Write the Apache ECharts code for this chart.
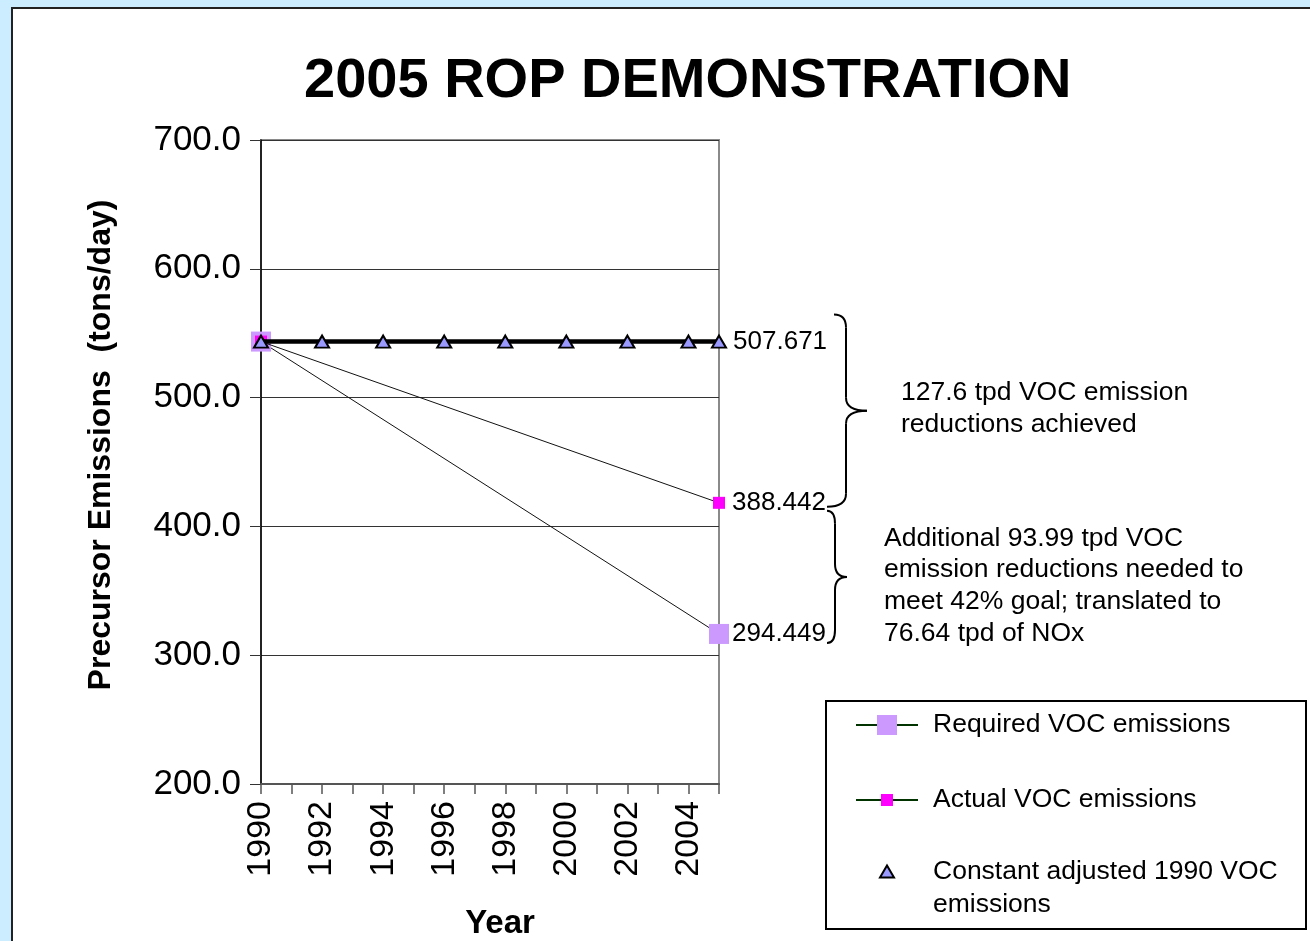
<!DOCTYPE html>
<html><head><meta charset="utf-8">
<script src="https://cdn.jsdelivr.net/npm/echarts@6/dist/echarts.min.js"></script>
<style>
html,body{margin:0;padding:0;background:#ccecff;overflow:hidden;}
#wrap{position:relative;width:1310px;height:941px;background:#ccecff;overflow:hidden;}
#panel{position:absolute;left:11px;top:7px;width:1400px;height:1000px;background:#fff;border:2px solid #222;box-sizing:border-box;}
#chart{position:absolute;left:0;top:0;width:1310px;height:941px;}
</style></head><body>
<div id="wrap"><div id="panel"></div><div id="chart"></div></div>
<script>
const titleText = '2005 ROP DEMONSTRATION';
const xAxisTitle = 'Year';
const yAxisTitle = 'Precursor Emissions  (tons/day)';
const yMin = 200, yMax = 700, yStep = 100;
const xMin = 1990, xMax = 2005, xStep = 1;
const labelledYears = [1990, 1992, 1994, 1996, 1998, 2000, 2002, 2004];
const seriesNames = ['Required VOC emissions', 'Actual VOC emissions', 'Constant adjusted 1990 VOC emissions'];
const legendLabels = ['Required VOC emissions', 'Actual VOC emissions', '\nConstant adjusted 1990 VOC\nemissions'];
const requiredYears = [1990, 2005];
const requiredValues = [543.5, 316.5];
const actualYears = [1990, 2005];
const actualValues = [543.5, 418.3];
const constantYears = [1990, 1992, 1994, 1996, 1998, 2000, 2002, 2004, 2005];
const constantValues = [543.5, 543.5, 543.5, 543.5, 543.5, 543.5, 543.5, 543.5, 543.5];
const endLabels = ['294.449', '388.442', '507.671'];
const noteAchieved = '127.6 tpd VOC emission\nreductions achieved';
const noteNeeded = 'Additional 93.99 tpd VOC\nemission reductions needed to\nmeet 42% goal; translated to\n76.64 tpd of NOx';

const FONT = '"Liberation Sans", Arial, sans-serif';
const chart = echarts.init(document.getElementById('chart'), null, {renderer: 'canvas'});

function pairs(xs, ys) { return xs.map((x, i) => [x, ys[i]]); }
function endLabel(text, len) {
  return p => (p.dataIndex === len - 1 ? text : '');
}

const option = {
  backgroundColor: 'transparent',
  animation: false,
  title: {
    text: titleText, left: 299, top: 49,
    textStyle: {fontFamily: FONT, fontSize: 56, fontWeight: 'bold', color: '#000'}
  },
  grid: {left: 261, top: 140, right: 591, bottom: 157, containLabel: false, outerBoundsMode: 'none',
    show: true, borderColor: '#8a8a8a', borderWidth: 2, backgroundColor: 'transparent'},
  xAxis: {
    type: 'value', min: xMin, max: xMax, interval: xStep,
    name: xAxisTitle, nameLocation: 'middle', nameGap: 123,
    nameTextStyle: {fontFamily: FONT, fontSize: 33, fontWeight: 'bold', color: '#000', padding: [0, 0, 0, 20]},
    axisLine: {show: true, lineStyle: {color: '#555', width: 2}},
    axisTick: {show: true, length: 10, lineStyle: {color: '#555', width: 1.5}},
    splitLine: {show: false},
    axisLabel: {
      rotate: 90, margin: 17, fontFamily: FONT, fontSize: 34, color: '#000',
      formatter: v => (labelledYears.indexOf(v) >= 0 ? String(v) : '')
    }
  },
  yAxis: {
    type: 'value', min: yMin, max: yMax, interval: yStep,
    name: yAxisTitle, nameLocation: 'middle', nameGap: 144, nameRotate: 90,
    nameTextStyle: {fontFamily: FONT, fontSize: 32, fontWeight: 'bold', color: '#000', padding: [0, 0, 0, 34]},
    axisLine: {show: true, lineStyle: {color: '#000', width: 1.5}},
    axisTick: {show: true, length: 11, lineStyle: {color: '#333', width: 1}},
    splitLine: {show: true, lineStyle: {color: '#333', width: 1}},
    axisLabel: {margin: 20, fontFamily: FONT, fontSize: 35, color: '#000', padding: [6, 0, 0, 0], formatter: v => v.toFixed(1)}
  },
  legend: [
    {
      data: [seriesNames[0]], orient: 'vertical', left: 855, top: 710, padding: 0,
      itemWidth: 62, itemHeight: 25,
      lineStyle: {color: '#003300', width: 2},
      formatter: () => legendLabels[0],
      textStyle: {fontFamily: FONT, fontSize: 26.5, color: '#000', lineHeight: 30, padding: [0, 0, 0, 10]}
    },
    {
      data: [seriesNames[1]], orient: 'vertical', left: 855, top: 785, padding: 0,
      itemWidth: 62, itemHeight: 15,
      lineStyle: {color: '#003300', width: 2},
      formatter: () => legendLabels[1],
      textStyle: {fontFamily: FONT, fontSize: 26.5, color: '#000', lineHeight: 30, padding: [0, 0, 0, 10]}
    },
    {
      data: [{name: seriesNames[2], icon: 'triangle'}], orient: 'vertical', left: 879, top: 822, padding: 0,
      itemWidth: 14, itemHeight: 12,
      formatter: () => legendLabels[2],
      textStyle: {fontFamily: FONT, fontSize: 26.5, color: '#000', lineHeight: 33, padding: [0, 0, 0, 34]}
    }
  ],
  series: [
    {
      name: seriesNames[0], type: 'line', data: pairs(requiredYears, requiredValues),
      symbol: 'rect', symbolSize: 20, z: 2,
      itemStyle: {color: '#cc99ff', borderWidth: 0},
      lineStyle: {color: '#111', width: 1},
      label: {show: true, position: 'right', distance: 3, fontFamily: FONT, fontSize: 26, color: '#000',
        formatter: endLabel(endLabels[0], requiredYears.length)}
    },
    {
      name: seriesNames[1], type: 'line', data: pairs(actualYears, actualValues),
      symbol: 'rect', symbolSize: 12, z: 3,
      itemStyle: {color: '#ff00ff', borderWidth: 0},
      lineStyle: {color: '#111', width: 1},
      label: {show: true, position: 'right', distance: 7, fontFamily: FONT, fontSize: 26, color: '#000',
        formatter: endLabel(endLabels[1], actualYears.length)}
    },
    {
      name: seriesNames[2], type: 'line', data: pairs(constantYears, constantValues),
      symbol: 'triangle', symbolSize: [14, 12], z: 4,
      itemStyle: {color: '#9999ff', borderColor: '#000', borderWidth: 2},
      lineStyle: {color: '#000', width: 4.5},
      label: {show: true, position: 'right', distance: 6, fontFamily: FONT, fontSize: 26, color: '#000',
        formatter: endLabel(endLabels[2], constantYears.length)}
    }
  ]
};
chart.setOption(option);

const STROKE = {stroke: '#000', lineWidth: 2, fill: null};
function braceElements(xEndTop, xEndBot, xV, xTip, top, bottom) {
  const mid = (top + bottom) / 2, r = 13;
  return [
    {type: 'bezierCurve', shape: {x1: xEndTop, y1: top, x2: xV, y2: top + r, cpx1: xV, cpy1: top}, style: STROKE},
    {type: 'line', shape: {x1: xV, y1: top + r, x2: xV, y2: mid - r}, style: STROKE},
    {type: 'bezierCurve', shape: {x1: xV, y1: mid - r, x2: xTip, y2: mid, cpx1: xV, cpy1: mid}, style: STROKE},
    {type: 'bezierCurve', shape: {x1: xTip, y1: mid, x2: xV, y2: mid + r, cpx1: xV, cpy1: mid}, style: STROKE},
    {type: 'line', shape: {x1: xV, y1: mid + r, x2: xV, y2: bottom - r}, style: STROKE},
    {type: 'bezierCurve', shape: {x1: xV, y1: bottom - r, x2: xEndBot, y2: bottom, cpx1: xV, cpy1: bottom}, style: STROKE}
  ];
}

const pConst = chart.convertToPixel({gridIndex: 0}, [constantYears[constantYears.length - 1], constantValues[constantValues.length - 1]]);
const pAct = chart.convertToPixel({gridIndex: 0}, [actualYears[actualYears.length - 1], actualValues[actualValues.length - 1]]);
const pReq = chart.convertToPixel({gridIndex: 0}, [requiredYears[requiredYears.length - 1], requiredValues[requiredValues.length - 1]]);
const xe = pConst[0];

const b1Top = pConst[1] - 27, b1Bot = pAct[1] + 4;
const b2Top = pAct[1] + 8, b2Bot = pReq[1] + 9;
const b1Mid = (b1Top + b1Bot) / 2, b2Mid = (b2Top + b2Bot) / 2;

const graphics = []
  .concat(braceElements(xe + 115, xe + 108, xe + 127, xe + 148, b1Top, b1Bot))
  .concat(braceElements(xe + 108, xe + 108, xe + 116, xe + 128, b2Top, b2Bot))
  .concat([
    {type: 'text', x: xe + 182, y: b1Mid - 2,
      style: {text: noteAchieved, fontFamily: FONT, fontSize: 26.5, lineHeight: 32, fill: '#000', verticalAlign: 'middle'}},
    {type: 'text', x: xe + 165, y: b2Mid + 9,
      style: {text: noteNeeded, fontFamily: FONT, fontSize: 26.5, lineHeight: 31.7, fill: '#000', verticalAlign: 'middle'}},
    {type: 'rect', shape: {x: 826, y: 701, width: 480, height: 228},
      style: {stroke: '#000', lineWidth: 2, fill: null}}
  ]);

chart.setOption({graphic: graphics});
</script>
</body></html>
